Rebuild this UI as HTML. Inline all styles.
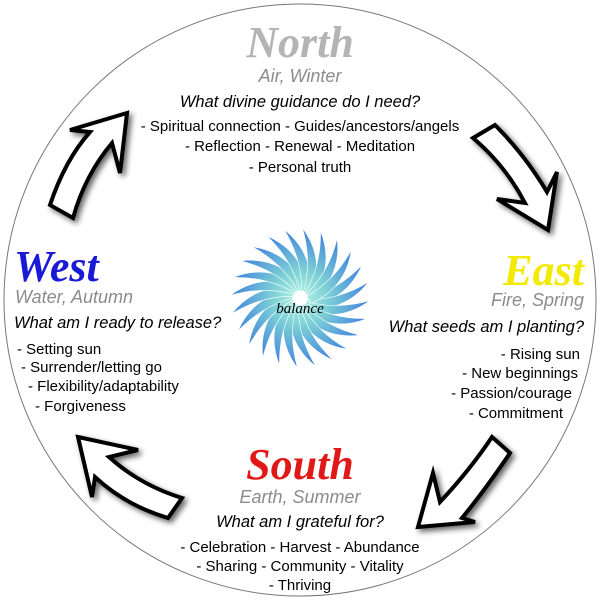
<!DOCTYPE html>
<html><head><meta charset="utf-8"><style>
html,body{margin:0;padding:0;background:#fff;width:600px;height:600px;overflow:hidden}
svg{display:block}
.t{font-family:"Liberation Sans",sans-serif;fill:#000;font-size:15px}
.q{font-family:"Liberation Sans",sans-serif;font-style:italic;font-size:16.5px;fill:#000}
.g{font-family:"Liberation Sans",sans-serif;font-style:italic;font-size:18px;fill:#8c8c8c}
.h{font-family:"Liberation Serif",serif;font-style:italic;font-weight:bold;font-size:44px}
.ar{fill:#fff;stroke:#000;stroke-width:4;stroke-linejoin:miter;filter:url(#sh)}
</style></head><body>
<svg width="600" height="600" viewBox="0 0 600 600">
<defs>
<filter id="sh" x="-30%" y="-30%" width="160%" height="160%">
<feGaussianBlur in="SourceAlpha" stdDeviation="3"/>
<feOffset dx="3" dy="3" result="b"/>
<feComponentTransfer><feFuncA type="linear" slope="0.6"/></feComponentTransfer>
<feMerge><feMergeNode/><feMergeNode in="SourceGraphic"/></feMerge>
</filter>
<radialGradient id="pg" gradientUnits="userSpaceOnUse" cx="0" cy="0" r="66">
<stop offset="0" stop-color="#b8f5e6"/><stop offset="0.4" stop-color="#7fd2d6"/><stop offset="1" stop-color="#4488dd"/>
</radialGradient>
<path id="pet" d="M7,0 Q38,-8 62,-33 Q47,2 9,8 Z"/>
</defs>
<circle cx="300" cy="300" r="296" fill="#fff" stroke="#777" stroke-width="1"/>

<g transform="translate(300,298)" fill="url(#pg)" stroke="#fff" stroke-width="0.6">
<use href="#pet" transform="rotate(0)"/><use href="#pet" transform="rotate(15)"/><use href="#pet" transform="rotate(30)"/><use href="#pet" transform="rotate(45)"/><use href="#pet" transform="rotate(60)"/><use href="#pet" transform="rotate(75)"/><use href="#pet" transform="rotate(90)"/><use href="#pet" transform="rotate(105)"/><use href="#pet" transform="rotate(120)"/><use href="#pet" transform="rotate(135)"/><use href="#pet" transform="rotate(150)"/><use href="#pet" transform="rotate(165)"/><use href="#pet" transform="rotate(180)"/><use href="#pet" transform="rotate(195)"/><use href="#pet" transform="rotate(210)"/><use href="#pet" transform="rotate(225)"/><use href="#pet" transform="rotate(240)"/><use href="#pet" transform="rotate(255)"/><use href="#pet" transform="rotate(270)"/><use href="#pet" transform="rotate(285)"/><use href="#pet" transform="rotate(300)"/><use href="#pet" transform="rotate(315)"/><use href="#pet" transform="rotate(330)"/><use href="#pet" transform="rotate(345)"/>
</g>
<text x="300" y="313" text-anchor="middle" font-family="Liberation Serif,serif" font-style="italic" font-size="15" fill="#000">balance</text>

<path class="ar" d="M70,130 L127,113 L120,173 L112,143 Q85,175 73,218 L50,205 Q65,160 90,132 Z"/>
<path class="ar" d="M473,138 L495,125 Q525,155 547,192 L557,172 L548,230 L497,199 L525,203 Q505,165 473,138 Z"/>
<path class="ar" d="M492,437 L510,453 Q485,490 462,518 L475,522 L418,527 L433,473 L440,502 Q470,470 492,437 Z"/>
<path class="ar" d="M78,437 L138,450 L109,457 Q140,485 182,498 L168,518 Q125,505 95,477 L92,497 Z"/>

<!-- North -->
<text class="h" x="300" y="57" text-anchor="middle" fill="#b4b4b4">North</text>
<text class="g" x="300" y="82" text-anchor="middle">Air, Winter</text>
<text class="q" x="300" y="107" text-anchor="middle">What divine guidance do I need?</text>
<text class="t" x="300" y="131" text-anchor="middle">- Spiritual connection  - Guides/ancestors/angels</text>
<text class="t" x="300" y="151" text-anchor="middle">- Reflection  - Renewal  - Meditation</text>
<text class="t" x="300" y="172" text-anchor="middle">- Personal truth</text>

<!-- West -->
<text class="h" x="14" y="281" fill="#1a1ad6">West</text>
<text class="g" x="15" y="303">Water, Autumn</text>
<text class="q" x="14" y="328">What am I ready to release?</text>
<text class="t" x="17" y="354">- Setting sun</text>
<text class="t" x="21" y="372">- Surrender/letting go</text>
<text class="t" x="28" y="391">- Flexibility/adaptability</text>
<text class="t" x="35" y="411">- Forgiveness</text>

<!-- East -->
<text class="h" x="584" y="285" text-anchor="end" fill="#f2ea00">East</text>
<text class="g" x="584" y="306" text-anchor="end">Fire, Spring</text>
<text class="q" x="584" y="332" text-anchor="end">What seeds am I planting?</text>
<text class="t" x="580" y="359" text-anchor="end">- Rising sun</text>
<text class="t" x="578" y="378" text-anchor="end">- New beginnings</text>
<text class="t" x="572" y="398" text-anchor="end">- Passion/courage</text>
<text class="t" x="563" y="418" text-anchor="end">- Commitment</text>

<!-- South -->
<text class="h" x="300" y="479" text-anchor="middle" fill="#e01818">South</text>
<text class="g" x="300" y="503" text-anchor="middle">Earth, Summer</text>
<text class="q" x="300" y="527" text-anchor="middle">What am I grateful for?</text>
<text class="t" x="300" y="552" text-anchor="middle">- Celebration  - Harvest  - Abundance</text>
<text class="t" x="300" y="571" text-anchor="middle">- Sharing - Community - Vitality</text>
<text class="t" x="300" y="590" text-anchor="middle">- Thriving</text>
</svg>
</body></html>
